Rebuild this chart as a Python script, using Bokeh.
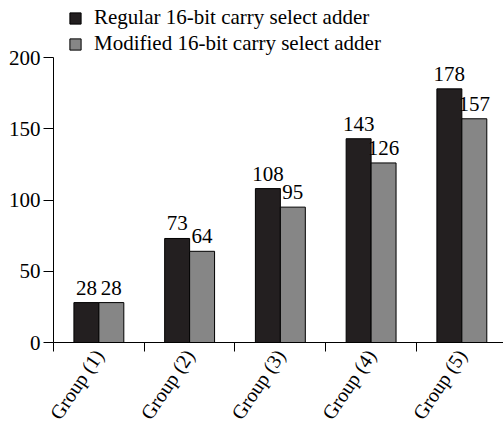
from bokeh.plotting import figure
from bokeh.models import Range1d, FixedTicker, Legend, LegendItem, ColumnDataSource
from bokeh.core.properties import value
from bokeh.embed import file_html
from bokeh.resources import INLINE
import math

groups = ["Group (1)", "Group (2)", "Group (3)", "Group (4)", "Group (5)"]
regular = [28, 73, 108, 143, 178]
modified = [28, 64, 95, 126, 157]
series_names = ["Regular 16-bit carry select adder", "Modified 16-bit carry select adder"]
y_ticks = [0, 50, 100, 150, 200]

FONT = "Liberation Serif"
BLACK = "#231f20"
GRAY = "#868686"

centers = [i + 0.5 for i in range(len(groups))]
bw = 0.275
x_reg = [c - bw / 2 for c in centers]
x_mod = [c + bw / 2 for c in centers]

src = ColumnDataSource(dict(x_reg=x_reg, x_mod=x_mod, reg=regular, mod=modified,
                            reg_txt=[str(v) for v in regular], mod_txt=[str(v) for v in modified]))

p = figure(width=503, height=433, output_backend="svg", toolbar_location=None,
           x_range=Range1d(0, 4.959), y_range=Range1d(0, 240),
           min_border_left=53, min_border_right=0, min_border_top=0, min_border_bottom=91)
p.outline_line_color = None
p.xgrid.visible = False
p.ygrid.visible = False
p.background_fill_color = "white"
p.border_fill_color = "white"

r1 = p.vbar(x="x_reg", top="reg", width=bw, bottom=0, source=src, fill_color=BLACK, line_color="black", line_width=1)
r2 = p.vbar(x="x_mod", top="mod", width=bw, bottom=0, source=src, fill_color=GRAY, line_color="black", line_width=1)

for xcol, tcol in (("x_reg", "reg_txt"), ("x_mod", "mod_txt")):
    ycol = "reg" if tcol == "reg_txt" else "mod"
    p.text(x=xcol, y=ycol, text=tcol, source=src, text_align="center", text_baseline="bottom",
           y_offset=-8, text_font=value(FONT), text_font_size="21px", text_color="black")

# y axis
ya = p.yaxis[0]
ya.bounds = (0, 200)
ya.ticker = FixedTicker(ticks=y_ticks, minor_ticks=[])
ya.major_tick_out = 10
ya.major_tick_in = 0
ya.minor_tick_out = 0
ya.major_label_text_font = FONT
ya.major_label_text_font_size = "21px"
ya.major_label_text_color = "black"
ya.major_label_standoff = 3
ya.axis_line_color = "black"
ya.major_tick_line_color = "black"

# x axis
xa = p.xaxis[0]
xa.ticker = FixedTicker(ticks=centers, minor_ticks=[float(i) for i in range(len(groups) + 1)])
xa.major_label_overrides = {c: g for c, g in zip(centers, groups)}
xa.major_tick_out = 0
xa.major_tick_in = 0
xa.minor_tick_out = 9
xa.minor_tick_in = 0
xa.minor_tick_line_color = "black"
xa.major_label_orientation = math.radians(56)
xa.major_label_text_font = FONT
xa.major_label_text_font_size = "20px"
xa.major_label_text_color = "black"
xa.major_label_standoff = 0
xa.axis_line_color = "black"

legend = Legend(items=[LegendItem(label=series_names[0], renderers=[r1]),
                       LegendItem(label=series_names[1], renderers=[r2])],
                location=(15, 286), orientation="vertical",
                glyph_width=14, glyph_height=14, label_height=22, spacing=1, padding=0, margin=0,
                label_text_font=FONT, label_text_font_size="21px", label_text_color="black",
                label_standoff=12, border_line_color=None, background_fill_alpha=0)
p.add_layout(legend, "center")

open("out.html", "w").write(file_html(p, INLINE))
